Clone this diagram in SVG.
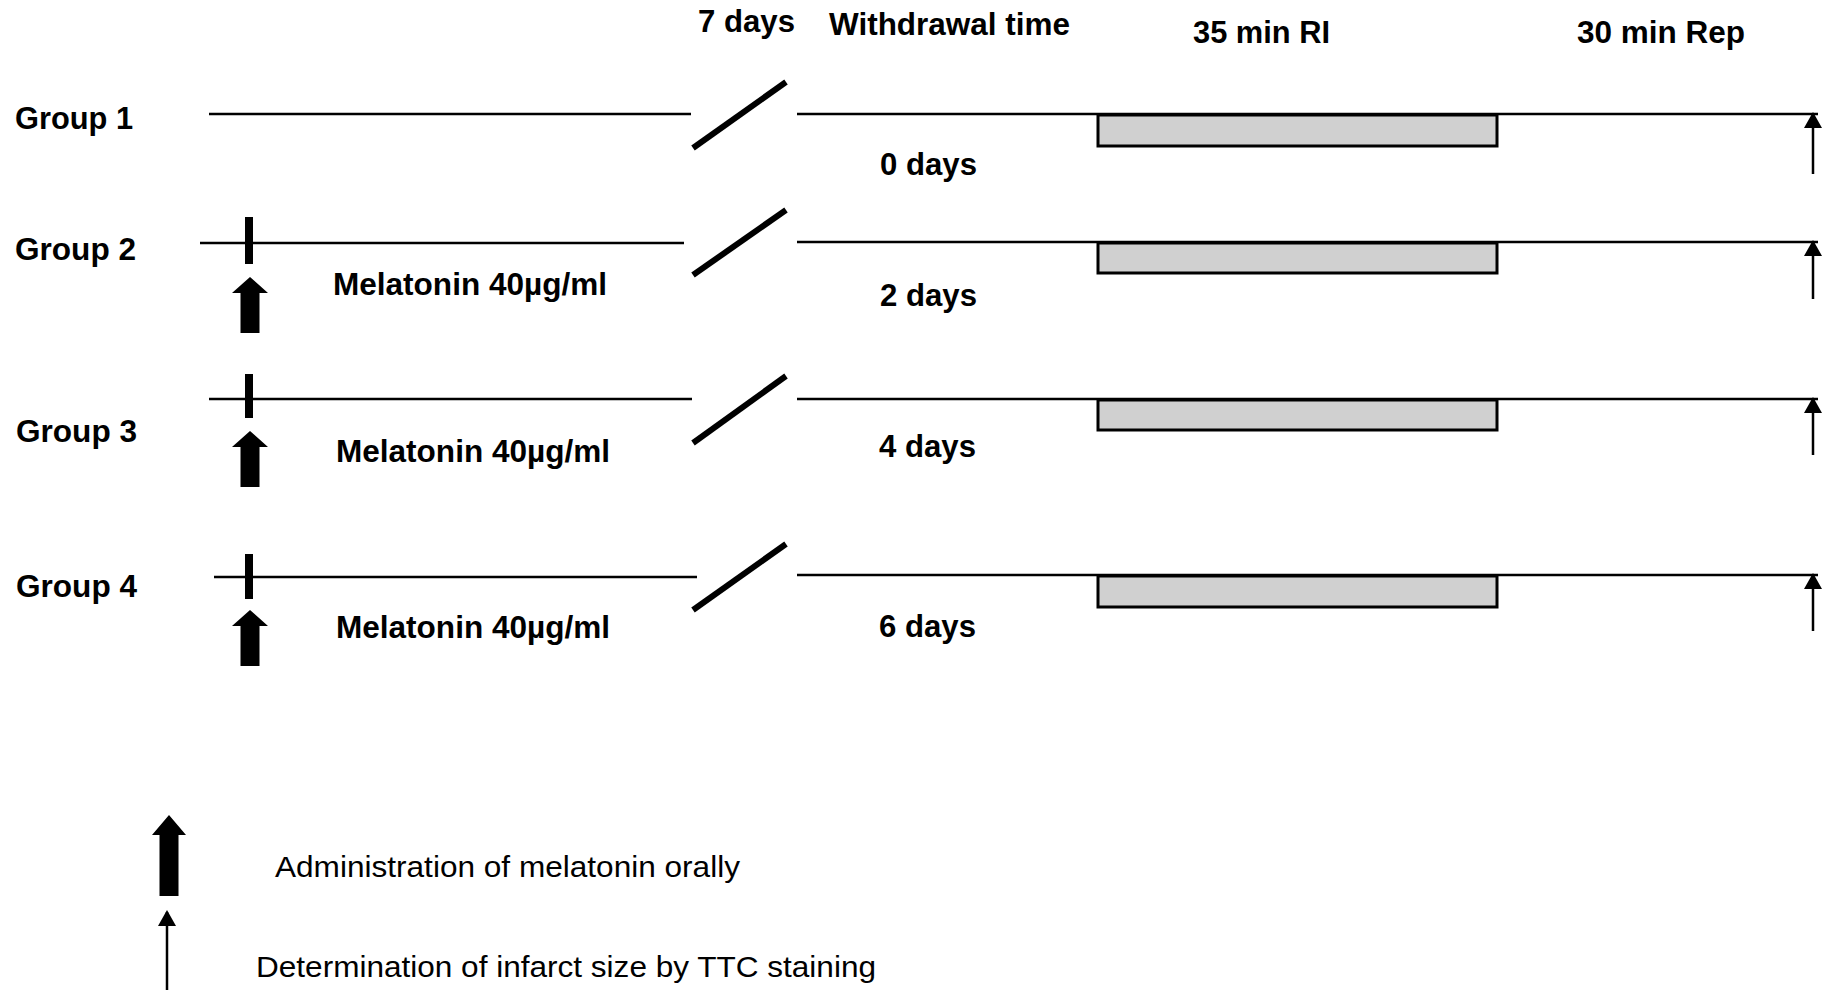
<svg xmlns="http://www.w3.org/2000/svg" width="1822" height="990" viewBox="0 0 1822 990">
<style>
.b{font-family:"Liberation Sans",Arial,sans-serif;font-weight:bold;font-size:31px;fill:#000}
.r{font-family:"Liberation Sans",Arial,sans-serif;font-size:29px;fill:#000}
.ln{stroke:#000;stroke-width:2.5;fill:none}
.sl{stroke:#000;stroke-width:6;fill:none;stroke-linecap:butt}
.tk{stroke:#000;stroke-width:8;fill:none}
.box{fill:#d0d0d0;stroke:#000;stroke-width:3}
.thin{stroke:#000;stroke-width:2.5;fill:none;marker-end:url(#ah)}
.fat{fill:#000}
</style>
<defs>
<marker id="ah" markerUnits="userSpaceOnUse" markerWidth="18" markerHeight="18" viewBox="0 0 16 18" refX="14" refY="9" orient="auto">
<path d="M0,0 L16,9 L0,18 Z" fill="#000"/>
</marker>
<path id="fatArrow" d="M0,0 L18,16 L9.5,16 L9.5,56 L-9.5,56 L-9.5,16 L-18,16 Z"/>
</defs>

<g id="headers">
<text class="b" x="698" y="32" textLength="97" lengthAdjust="spacingAndGlyphs">7 days</text>
<text class="b" x="829" y="35" textLength="241" lengthAdjust="spacingAndGlyphs">Withdrawal time</text>
<text class="b" x="1193" y="43" textLength="137" lengthAdjust="spacingAndGlyphs">35 min RI</text>
<text class="b" x="1577" y="43" textLength="168" lengthAdjust="spacingAndGlyphs">30 min Rep</text>
</g>

<g id="group1">
<text class="b" x="15" y="129" textLength="118" lengthAdjust="spacingAndGlyphs">Group 1</text>
<rect class="box" x="1098" y="115" width="399" height="31"/>
<text class="b" x="880" y="175" textLength="97" lengthAdjust="spacingAndGlyphs">0 days</text>
</g>

<g id="group2">
<text class="b" x="15" y="260" textLength="121" lengthAdjust="spacingAndGlyphs">Group 2</text>
<rect class="box" x="1098" y="243" width="399" height="30"/>
<text class="b" x="333" y="295" textLength="274" lengthAdjust="spacingAndGlyphs">Melatonin 40µg/ml</text>
<text class="b" x="880" y="306" textLength="97" lengthAdjust="spacingAndGlyphs">2 days</text>
</g>

<g id="group3">
<text class="b" x="16" y="442" textLength="121" lengthAdjust="spacingAndGlyphs">Group 3</text>
<rect class="box" x="1098" y="400" width="399" height="30"/>
<text class="b" x="336" y="462" textLength="274" lengthAdjust="spacingAndGlyphs">Melatonin 40µg/ml</text>
<text class="b" x="879" y="457" textLength="97" lengthAdjust="spacingAndGlyphs">4 days</text>
</g>

<g id="group4">
<text class="b" x="16" y="597" textLength="121" lengthAdjust="spacingAndGlyphs">Group 4</text>
<rect class="box" x="1098" y="576" width="399" height="31"/>
<text class="b" x="336" y="638" textLength="274" lengthAdjust="spacingAndGlyphs">Melatonin 40µg/ml</text>
<text class="b" x="879" y="637" textLength="97" lengthAdjust="spacingAndGlyphs">6 days</text>
</g>

<g id="legend">
<path class="fat" d="M169,815 L186,835 L178.5,835 L178.5,896 L159.5,896 L159.5,835 L152,835 Z"/>
<text class="r" x="275" y="877" textLength="465" lengthAdjust="spacingAndGlyphs">Administration of melatonin orally</text>
<line class="thin" x1="167" y1="990" x2="167" y2="912"/>
<text class="r" x="256" y="977" textLength="620" lengthAdjust="spacingAndGlyphs">Determination of infarct size by TTC staining</text>
</g>

<g id="connectors">
<line class="ln" x1="209" y1="114" x2="691" y2="114"/>
<line class="sl" x1="693" y1="148" x2="786" y2="82"/>
<line class="ln" x1="797" y1="114" x2="1818" y2="114"/>
<line class="thin" x1="1813" y1="174" x2="1813" y2="114"/>

<line class="ln" x1="200" y1="243" x2="684" y2="243"/>
<line class="tk" x1="249" y1="217" x2="249" y2="264"/>
<use href="#fatArrow" x="250" y="277"/>
<line class="sl" x1="693" y1="275" x2="786" y2="210"/>
<line class="ln" x1="797" y1="242" x2="1818" y2="242"/>
<line class="thin" x1="1813" y1="299" x2="1813" y2="242"/>

<line class="ln" x1="209" y1="399" x2="692" y2="399"/>
<line class="tk" x1="249" y1="374" x2="249" y2="418"/>
<use href="#fatArrow" x="250" y="431"/>
<line class="sl" x1="693" y1="443" x2="786" y2="376"/>
<line class="ln" x1="797" y1="399" x2="1818" y2="399"/>
<line class="thin" x1="1813" y1="455" x2="1813" y2="399"/>

<line class="ln" x1="214" y1="577" x2="697" y2="577"/>
<line class="tk" x1="249" y1="554" x2="249" y2="599"/>
<use href="#fatArrow" x="250" y="610"/>
<line class="sl" x1="693" y1="610" x2="786" y2="544"/>
<line class="ln" x1="797" y1="575" x2="1818" y2="575"/>
<line class="thin" x1="1813" y1="631" x2="1813" y2="575"/>
</g>
</svg>
